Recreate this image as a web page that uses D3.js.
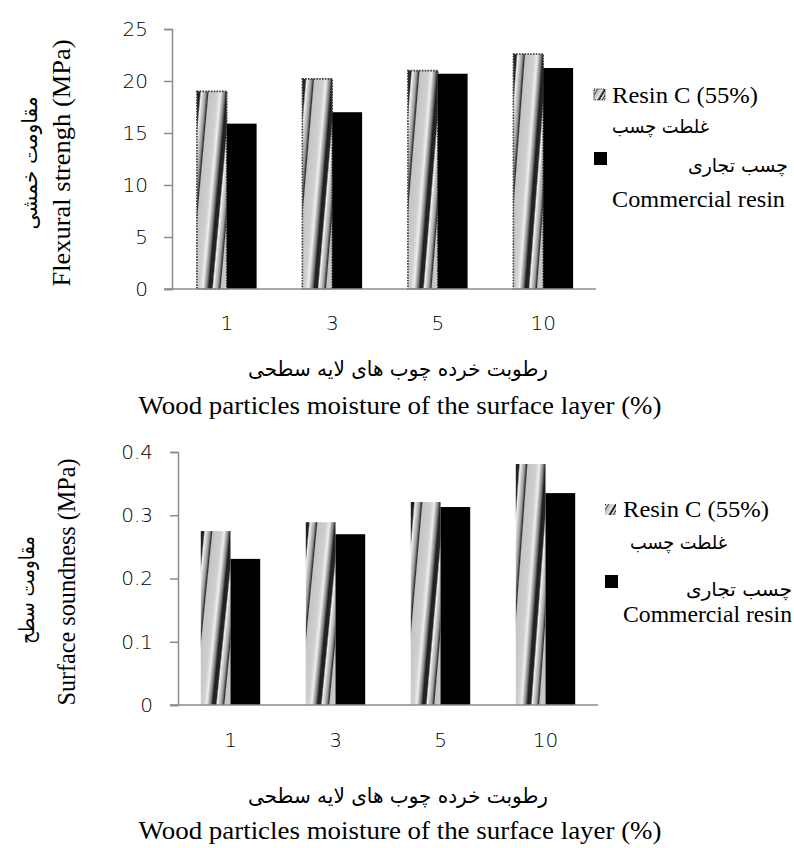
<!DOCTYPE html>
<html>
<head>
<meta charset="utf-8">
<script src="https://cdn.jsdelivr.net/npm/d3@7"></script>
<style>
  body { margin: 0; background: #fff; }
  .serif { font-family: "Liberation Serif", "Times New Roman", serif; }
  .fa { font-family: "DejaVu Sans", sans-serif; }
  .tick text { font-family: "DejaVu Sans", sans-serif; font-weight: 200; }
</style>
</head>
<body>
<svg id="chart" width="794" height="848"></svg>
<script>
// moisture levels of the surface layer (%)
var moisture = ["1", "3", "5", "10"];

// flexural strength (MPa)
var flexResinC = [19.0, 20.2, 21.0, 22.6];
var flexCommercial = [15.9, 17.0, 20.7, 21.25];
var flexTicks = [0, 5, 10, 15, 20, 25];

// surface soundness (MPa)
var surfResinC = [0.275, 0.289, 0.321, 0.381];
var surfCommercial = [0.231, 0.270, 0.313, 0.335];
var surfTicks = [0, 0.1, 0.2, 0.3, 0.4];

var seriesNames = ["resinC", "commercial"];

var svg = d3.select("#chart");
var defs = svg.append("defs");

// slanted "picture" fill used by Excel for the Resin C bars
var grad = defs.append("linearGradient")
    .attr("id", "stripes")
    .attr("x1", 0).attr("y1", 0)
    .attr("x2", 0.735).attr("y2", 0.44)
    .attr("spreadMethod", "repeat");
[[0, "#1e1e1e"], [0.1, "#262626"], [0.15, "#f2f2f2"], [0.3, "#9a9a9a"],
 [0.37, "#303030"], [0.41, "#c4c4c4"], [0.68, "#cfcfcf"], [0.8, "#eeeeee"],
 [0.93, "#7c7c7c"], [1, "#1e1e1e"]]
    .forEach(function (s) {
        grad.append("stop").attr("offset", s[0]).attr("stop-color", s[1]);
    });

function fitText(sel, len) {
    return sel.attr("textLength", len).attr("lengthAdjust", "spacingAndGlyphs");
}

function drawChart(cfg) {
    var data = moisture.map(function (m, i) {
        return {cat: m, resinC: cfg.resin[i], commercial: cfg.commercial[i]};
    });

    var x = d3.scaleBand().domain(moisture)
        .range([cfg.left, cfg.right])
        .paddingInner(0.434).paddingOuter(0.217);
    var xs = d3.scaleBand().domain(seriesNames).range([0, x.bandwidth()]);
    var y = d3.scaleLinear().domain([0, cfg.max]).range([cfg.bottom, cfg.top]);

    var g = svg.append("g");

    var groups = g.selectAll(".grp")
        .data(data)
        .enter().append("g")
        .attr("class", "grp")
        .attr("transform", function (d) { return "translate(" + x(d.cat) + ",0)"; });

    groups.append("rect")
        .attr("x", xs("resinC"))
        .attr("y", function (d) { return y(d.resinC); })
        .attr("width", xs.bandwidth())
        .attr("height", function (d) { return y(0) - y(d.resinC); })
        .attr("fill", "url(#stripes)")
        .attr("stroke", cfg.dotted ? "#3a3a3a" : "none")
        .attr("stroke-width", 1.6)
        .attr("stroke-dasharray", "1.6,1.2");

    groups.append("rect")
        .attr("x", xs("commercial"))
        .attr("y", function (d) { return y(d.commercial); })
        .attr("width", xs.bandwidth())
        .attr("height", function (d) { return y(0) - y(d.commercial); })
        .attr("fill", "#000");

    // y axis
    var yAxis = g.append("g")
        .attr("transform", "translate(" + cfg.axisX + ",0)")
        .call(d3.axisLeft(y).tickValues(cfg.ticks).tickSize(8).tickPadding(cfg.yPad)
            .tickFormat(function (d) { return d === 0 ? "0" : cfg.fmt(d); }));
    yAxis.select(".domain").attr("stroke", "#8c8c8c").attr("stroke-width", 1.5);
    yAxis.selectAll(".tick line").attr("stroke", "#8c8c8c").attr("stroke-width", 1.5);
    yAxis.selectAll(".tick text").style("font-size", "20px").attr("fill", "#000");

    // x axis
    var xAxis = g.append("g")
        .attr("transform", "translate(0," + cfg.bottom + ")")
        .call(d3.axisBottom(x).tickSize(0).tickPadding(cfg.xPad));
    xAxis.select(".domain").attr("stroke", "#8c8c8c").attr("stroke-width", 1.5)
        .attr("d", "M" + (cfg.axisX - 8) + ",0H" + cfg.axisEnd);
    xAxis.selectAll(".tick text").style("font-size", "20px").attr("fill", "#000");

    // axis titles
    fitText(g.append("text").attr("class", "fa")
        .attr("transform", "translate(" + cfg.faYX + "," + cfg.faYMid + ")rotate(-90)")
        .attr("text-anchor", "middle").attr("dy", "0.35em")
        .style("font-size", "21px").text(cfg.faY), cfg.faYLen);
    fitText(g.append("text").attr("class", "serif")
        .attr("transform", "translate(" + cfg.enYX + "," + cfg.yMid + ")rotate(-90)")
        .attr("text-anchor", "middle").attr("dy", "0.35em")
        .style("font-size", "25px").text(cfg.enY), 247);
    fitText(g.append("text").attr("class", "fa")
        .attr("x", 398).attr("y", cfg.faXY)
        .attr("text-anchor", "middle").attr("dy", "0.35em")
        .style("font-size", "21px").text("رطوبت خرده چوب های لایه سطحی"), 300);
    fitText(g.append("text").attr("class", "serif")
        .attr("x", 400).attr("y", cfg.enXY)
        .attr("text-anchor", "middle")
        .style("font-size", "25px").text("Wood particles moisture of the surface layer (%)"), 523);

    // legend
    var L = cfg.legend;
    g.append("rect").attr("x", L.x).attr("y", L.y1).attr("width", 11).attr("height", 11)
        .attr("fill", "url(#stripes)")
        .attr("stroke", cfg.dotted ? "#3a3a3a" : "none")
        .attr("stroke-width", 1.2).attr("stroke-dasharray", "1.2,1");
    fitText(g.append("text").attr("class", "serif").attr("x", L.tx).attr("y", L.b1)
        .style("font-size", "23px").text("Resin C (55%)"), 146);
    fitText(g.append("text").attr("class", "fa").attr("x", L.tx + L.ind).attr("y", L.b2)
        .style("font-size", "19px").text("غلطت چسب"), 97);
    g.append("rect").attr("x", L.x).attr("y", L.y2).attr("width", 13).attr("height", 13)
        .attr("fill", "#000");
    fitText(g.append("text").attr("class", "fa").attr("x", L.rx).attr("y", L.b3)
        .attr("text-anchor", "end")
        .style("font-size", "19px").text("چسب تجاری"), L.w3);
    fitText(g.append("text").attr("class", "serif").attr("x", L.tx).attr("y", L.b4)
        .style("font-size", "23px").text("Commercial resin"), L.w4);
}

drawChart({
    resin: flexResinC, commercial: flexCommercial, ticks: flexTicks, max: 25,
    fmt: d3.format("d"), dotted: true,
    left: 174, right: 596, axisX: 172, axisEnd: 596, top: 29, bottom: 289,
    yPad: 16, xPad: 27,
    faY: "مقاومت خمشی", enY: "Flexural strengh (MPa)",
    faYX: 30, faYMid: 163, faYLen: 133, enYX: 61, yMid: 163, faXY: 369, enXY: 414,
    legend: {x: 594, y1: 89, y2: 152, tx: 612, ind: 0, rx: 788, w3: 100, w4: 173,
             b1: 103, b2: 133, b3: 172, b4: 207}
});

drawChart({
    resin: surfResinC, commercial: surfCommercial, ticks: surfTicks, max: 0.4,
    fmt: d3.format(".1f"), dotted: false,
    left: 178, right: 598, axisX: 178, axisEnd: 598, top: 452, bottom: 705,
    yPad: 17, xPad: 28,
    faY: "مقاومت سطح", enY: "Surface soundness (MPa)",
    faYX: 27, faYMid: 590, faYLen: 108, enYX: 66, yMid: 582, faXY: 796, enXY: 839,
    legend: {x: 605, y1: 504, y2: 575, tx: 623, ind: 7, rx: 792, w3: 106, w4: 169,
             b1: 517, b2: 549, b3: 596, b4: 622}
});
</script>
</body>
</html>
